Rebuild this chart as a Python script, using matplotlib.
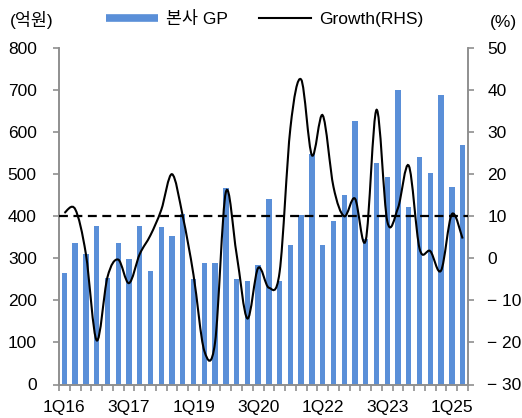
import numpy as np
import matplotlib
matplotlib.use("Agg")
import matplotlib.pyplot as plt
from matplotlib.path import Path
from matplotlib.patches import PathPatch
from matplotlib.lines import Line2D

plt.rcParams['font.family'] = ['Liberation Sans', 'Noto Sans CJK KR']

# quarterly data, 1Q16 .. 2Q25
gp = [264, 336, 310, 378, 254, 336, 298, 378, 270, 374, 354, 405,
      251, 288, 288, 468, 252, 245, 284, 440, 245, 331, 403, 549,
      331, 388, 450, 626, 345, 526, 493, 701, 422, 540, 502, 688,
      470, 569]
growth = [10.8, 11.7, 1, -19.5, -4.5, -0.3, -5.9, 1, 5.5, 11.5, 20, 10,
          -4, -22, -20, 15.7, 1, -14.3, -2.3, -7, -3.2, 31, 42.5, 24.5,
          34, 17, 10, 14.2, 4.3, 35.3, 8.8, 12, 22, 2.3, 1.7, -2.9,
          10.5, 4.7]
tick_pos = [0, 6, 12, 18, 24, 30, 36]
tick_labels = ['1Q16', '3Q17', '1Q19', '3Q20', '1Q22', '3Q23', '1Q25']
left_ticks = [0, 100, 200, 300, 400, 500, 600, 700, 800]
right_ticks = [-30, -20, -10, 0, 10, 20, 30, 40, 50]
ref_level = 10

bar_color = '#5a8fd8'
spine_color = '#8f8f8f'
fs = 12.5


def smooth_path(x, y):
    """Catmull-Rom style bezier through the points (like Excel smoothing)."""
    n = len(x)
    verts = [(x[0], y[0])]
    codes = [Path.MOVETO]
    for i in range(n - 1):
        a = i - 1 if i > 0 else i
        d = i + 2 if i + 2 < n else i + 1
        c1 = (x[i] + (x[i + 1] - x[a]) / 6, y[i] + (y[i + 1] - y[a]) / 6)
        c2 = (x[i + 1] - (x[d] - x[i]) / 6, y[i + 1] - (y[d] - y[i]) / 6)
        verts += [c1, c2, (x[i + 1], y[i + 1])]
        codes += [Path.CURVE4] * 3
    return Path(verts, codes)


fig = plt.figure(figsize=(5.22, 4.18), dpi=100)
ax = fig.add_axes([59 / 522, 1 - 384.5 / 418, (468 - 59) / 522, (384.5 - 48) / 418])
ax2 = ax.twinx()

x = np.arange(len(gp))
ax.bar(x, gp, width=0.5, color=bar_color, zorder=2)
ax.set_xlim(-0.5, len(gp) - 0.5)
ax.set_ylim(0, 800)
ax.set_yticks(left_ticks)
ax.set_yticklabels([str(v) for v in left_ticks], fontsize=fs)

ax.set_xticks(tick_pos)
ax.set_xticklabels(tick_labels, fontsize=fs)
ax.set_xticks(np.arange(-0.5, len(gp), 1), minor=True)
ax.tick_params(axis='x', which='major', length=0, pad=11)
ax.tick_params(axis='x', which='minor', length=4, width=1.2, color=spine_color, direction='out')
ax.tick_params(axis='y', length=4, width=1.2, color=spine_color, direction='out', pad=12)

ax2.set_ylim(-30, 50)
ax2.set_yticks(right_ticks)
ax2.set_yticklabels([('\u2212 ' + str(-v)) if v < 0 else str(v) for v in right_ticks], fontsize=fs)
ax2.tick_params(axis='y', length=4, width=1.2, color=spine_color, direction='out', pad=10)

ax2.add_patch(PathPatch(smooth_path(x, growth), facecolor='none', edgecolor='black',
                        lw=1.5, zorder=3))
ax2.axhline(ref_level, color='black', lw=1.6, dashes=(4, 2.5), zorder=4)

for a in (ax, ax2):
    a.spines['top'].set_visible(False)
    for s in ('left', 'right', 'bottom'):
        a.spines[s].set_color(spine_color)
        a.spines[s].set_linewidth(1.2)

handles = [Line2D([], [], color=bar_color, lw=5.5, solid_capstyle='butt'),
           Line2D([], [], color='black', lw=1.5)]
fig.legend(handles, ['본사 GP', 'Growth(RHS)'], loc='center left',
           bbox_to_anchor=(106 / 522, 1 - 19 / 418), ncol=2, frameon=False,
           fontsize=fs, handlelength=3.0, handletextpad=0.45, columnspacing=1.8,
           borderpad=0, borderaxespad=0)

fig.text(10 / 522, 1 - 20 / 418, '(억원)', fontsize=fs, va='center', ha='left')
fig.text(490 / 522, 1 - 22 / 418, '(%)', fontsize=fs, va='center', ha='left')

fig.savefig('out.png', dpi=100)
